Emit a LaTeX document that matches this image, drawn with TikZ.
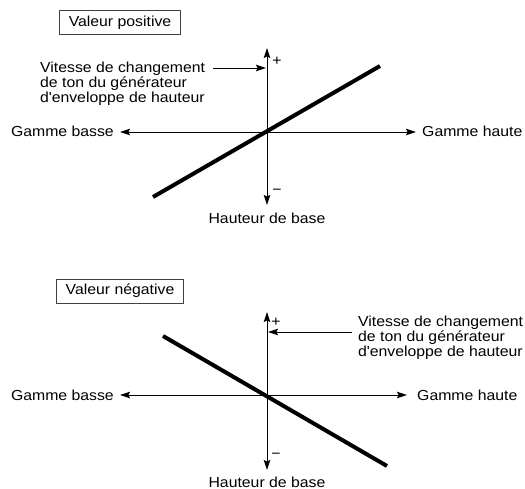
\documentclass[tikz,border=0pt]{standalone}
\usepackage{fontspec}
\setmainfont{Liberation Sans}[FakeStretch=1.09]
\usetikzlibrary{arrows.meta}

\begin{document}
\begin{tikzpicture}[
    x=1pt, y=-1pt,
    every node/.style={font=\fontsize{14.5}{15}\selectfont, inner sep=0pt},
    caption/.style={
        rectangle,
        draw=black!75,
        line width=0.6pt,
        inner xsep=9pt,
        minimum height=24pt
    },
    axis/.style={draw, line width=0.9pt, {Stealth[length=10pt,width=6.5pt,inset=1.5pt]}-{Stealth[length=10pt,width=6.5pt,inset=1.5pt]}},
    pointer/.style={draw, line width=0.9pt, -{Stealth[length=10pt,width=6.5pt,inset=1.5pt]}},
    slope/.style={draw, line width=4pt},
    note/.style={align=left, anchor=north west}
]
\useasboundingbox (0,0) rectangle (525,489);

% positive value
\node (pos) [caption] at (120,22.5) {Valeur positive};
\coordinate (pTop) at (267,48);
\coordinate (pBot) at (267,205);
\coordinate (pLeft) at (120,132);
\coordinate (pRight) at (416,132);
\coordinate (pA) at (153,197);
\coordinate (pB) at (380,66);
\coordinate (pTail) at (213,68);
\coordinate (pHead) at (266,68);

\node (pnote) [note] at (40,62) {Vitesse de changement\\de ton du générateur\\d\textquotesingle enveloppe de hauteur};
\node (plow) [anchor=base east] at (114,137) {Gamme basse};
\node (phigh) [anchor=base west] at (422,137) {Gamme haute};
\node (pbase) [anchor=base] at (267,224) {Hauteur de base};
\node (pplus) at (277,61) {+};
\node (pminus) at (277,192) {−};

\path [axis] (pBot) -- (pTop);
\path [axis] (pLeft) -- (pRight);
\path [pointer] (pTail) -- (pHead);
\path [slope] (pA) -- (pB);

% negative value
\node (neg) [caption] at (120,291) {Valeur négative};
\coordinate (nTop) at (267,312);
\coordinate (nBot) at (267,470);
\coordinate (nLeft) at (120,395);
\coordinate (nRight) at (407,395);
\coordinate (nA) at (163,336);
\coordinate (nB) at (387,466);
\coordinate (nTail) at (352,332);
\coordinate (nHead) at (268,332);

\node (nnote) [note] at (358,316) {Vitesse de changement\\de ton du générateur\\d\textquotesingle enveloppe de hauteur};
\node (nlow) [anchor=base east] at (114,400) {Gamme basse};
\node (nhigh) [anchor=base west] at (417,400) {Gamme haute};
\node (nbase) [anchor=base] at (267,487) {Hauteur de base};
\node (nplus) at (276,322) {+};
\node (nminus) at (276,456) {−};

\path [axis] (nBot) -- (nTop);
\path [axis] (nLeft) -- (nRight);
\path [pointer] (nTail) -- (nHead);
\path [slope] (nA) -- (nB);

\end{tikzpicture}
\end{document}
